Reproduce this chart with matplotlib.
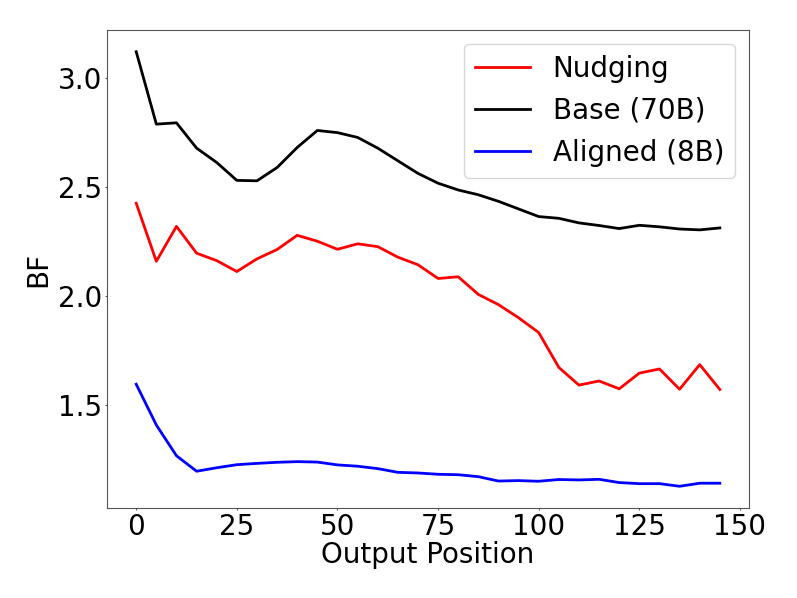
import matplotlib
matplotlib.use("Agg")
import matplotlib.pyplot as plt

positions = list(range(0, 150, 5))

nudging = [2.424, 2.158, 2.318, 2.195, 2.161, 2.111, 2.169, 2.212, 2.277, 2.250,
           2.213, 2.238, 2.225, 2.177, 2.142, 2.079, 2.087, 2.006, 1.959, 1.899,
           1.831, 1.671, 1.590, 1.609, 1.573, 1.645, 1.664, 1.571, 1.684, 1.570]

base_70b = [3.119, 2.787, 2.793, 2.677, 2.611, 2.529, 2.527, 2.588, 2.680, 2.758,
            2.748, 2.726, 2.677, 2.619, 2.561, 2.516, 2.485, 2.463, 2.433, 2.398,
            2.363, 2.355, 2.334, 2.322, 2.308, 2.323, 2.316, 2.306, 2.302, 2.311]

aligned_8b = [1.594, 1.407, 1.266, 1.195, 1.211, 1.225, 1.231, 1.236, 1.239, 1.237,
              1.224, 1.218, 1.207, 1.190, 1.187, 1.181, 1.179, 1.170, 1.150, 1.152,
              1.149, 1.157, 1.155, 1.158, 1.143, 1.138, 1.138, 1.126, 1.140, 1.140]

fig, ax = plt.subplots(figsize=(7.97, 5.98), dpi=100)
fig.subplots_adjust(left=0.1343, right=0.9398, top=0.9498, bottom=0.1505)

ax.plot(positions, nudging, color='red', lw=2, label='Nudging')
ax.plot(positions, base_70b, color='black', lw=2, label='Base (70B)')
ax.plot(positions, aligned_8b, color='blue', lw=2, label='Aligned (8B)')

for sp in ax.spines.values():
    sp.set_color('#555555')

ax.set_xlabel('Output Position', fontsize=20, labelpad=0)
ax.set_ylabel('BF', fontsize=20)
ax.tick_params(labelsize=20, length=1.5, pad=2, color='#555555')
ax.set_xticks([0, 25, 50, 75, 100, 125, 150])
ax.set_yticks([1.5, 2.0, 2.5, 3.0])
ax.legend(fontsize=20, loc='upper right')

fig.savefig('out.png', dpi=100)
